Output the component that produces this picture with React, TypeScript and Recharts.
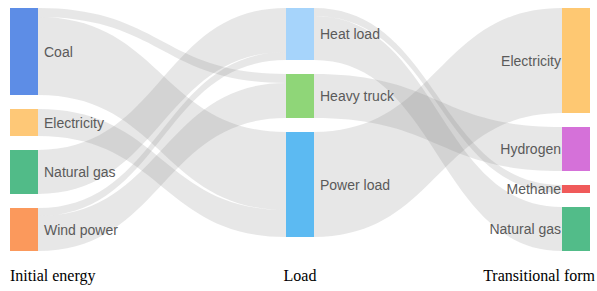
import React from 'react';
import { Sankey } from 'recharts';

// Columns of nodes
const initialEnergy = ['Coal', 'Electricity', 'Natural gas', 'Wind power'];
const loads = ['Heat load', 'Heavy truck', 'Power load'];
const transitionalForms = ['Electricity', 'Hydrogen', 'Methane', 'Natural gas'];

const initialColors = ['#5d8de6', '#fec877', '#51bb88', '#fb995c'];
const loadColors = ['#a6d4fb', '#8fd678', '#5cbaf2'];
const transitionalColors = ['#fec872', '#d571d9', '#f05a5a', '#52bc89'];

// Flows (from column k to column k+1)
const flowFrom = ['Coal', 'Coal', 'Electricity', 'Natural gas', 'Wind power', 'Wind power', 'Heat load', 'Heat load', 'Heavy truck', 'Power load'];
const flowTo = ['Heavy truck', 'Power load', 'Power load', 'Heat load', 'Heat load', 'Heavy truck', 'Methane', 'Natural gas', 'Hydrogen', 'Electricity'];
const flowValue = [9, 78, 27, 44, 8, 35, 8, 44, 44, 105];

const columnTitles = ['Initial energy', 'Load', 'Transitional form'];

const columns = [initialEnergy, loads, transitionalForms];
const offsets = [0, initialEnergy.length, initialEnergy.length + loads.length];

const nodes = [
  ...initialEnergy.map((name, i) => ({ name, color: initialColors[i], col: 0 })),
  ...loads.map((name, i) => ({ name, color: loadColors[i], col: 1 })),
  ...transitionalForms.map((name, i) => ({ name, color: transitionalColors[i], col: 2 })),
];

const links = flowFrom.map((from, i) => {
  const fromCol = initialEnergy.includes(from) ? 0 : 1;
  const source = offsets[fromCol] + columns[fromCol].indexOf(from);
  const target = offsets[fromCol + 1] + columns[fromCol + 1].indexOf(flowTo[i]);
  return { source, target, value: flowValue[i] };
});

const data = { nodes, links };

const LABEL_FONT = '"Liberation Sans", Arial, Helvetica, sans-serif';

const NodeShape = (props: any) => {
  const { x, y, width, height, payload } = props;
  const isRight = payload.col === 2;
  const cy = y + height / 2;
  return (
    <g>
      <rect x={x} y={y} width={width} height={height} fill={payload.color} />
      <text
        x={isRight ? x - 1 : x + width + 6}
        y={cy + 5}
        textAnchor={isRight ? 'end' : 'start'}
        fontFamily={LABEL_FONT}
        fontSize={14}
        fill="#5a5a5a"
      >
        {payload.name}
      </text>
    </g>
  );
};

const LinkShape = (props: any) => {
  const { sourceX, targetX, sourceY, targetY, sourceControlX, targetControlX, linkWidth } = props;
  const h = linkWidth / 2;
  const d = `M${sourceX},${sourceY - h} C${sourceControlX},${sourceY - h} ${targetControlX},${targetY - h} ${targetX},${targetY - h} L${targetX},${targetY + h} C${targetControlX},${targetY + h} ${sourceControlX},${sourceY + h} ${sourceX},${sourceY + h} Z`;
  return <path d={d} fill="#888888" fillOpacity={0.2} stroke="none" />;
};

export default function App() {
  return (
    <div style={{ position: 'absolute', left: 0, top: 0, width: 597, height: 291, background: '#fff' }}>
      <Sankey
        width={597}
        height={291}
        data={data}
        nodeWidth={28}
        nodePadding={14}
        iterations={0}
        margin={{ top: 8, right: 7, bottom: 40, left: 10 }}
        node={NodeShape}
        link={LinkShape}
        isAnimationActive={false}
      />
      <svg width={597} height={291} style={{ position: 'absolute', left: 0, top: 0, pointerEvents: 'none' }}>
        <text x={10} y={281} textAnchor="start" fontFamily='"Liberation Serif", "Times New Roman", serif' fontSize={16} fill="#000">
          {columnTitles[0]}
        </text>
        <text x={300} y={281} textAnchor="middle" fontFamily='"Liberation Serif", "Times New Roman", serif' fontSize={16} fill="#000">
          {columnTitles[1]}
        </text>
        <text x={595} y={281} textAnchor="end" fontFamily='"Liberation Serif", "Times New Roman", serif' fontSize={16} fill="#000">
          {columnTitles[2]}
        </text>
      </svg>
    </div>
  );
}
